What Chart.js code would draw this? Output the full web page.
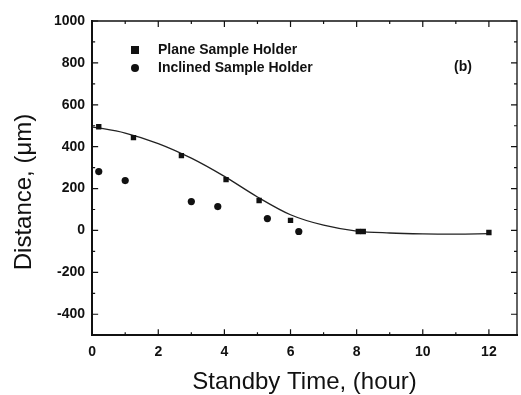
<!DOCTYPE html>
<html>
<head>
<meta charset="utf-8">
<script src="https://cdn.jsdelivr.net/npm/chart.js@4"></script>
<style>
  html, body { margin: 0; padding: 0; background: #fff; }
  #wrap { width: 521px; height: 395px; }
</style>
</head>
<body>
<div id="wrap"><canvas id="myChart" width="521" height="395"></canvas></div>
<script>
// data
var planeX = [0.2, 1.25, 2.7, 4.05, 5.05, 6.0, 8.05, 8.2, 12.0];
var planeY = [495, 443, 357, 243, 143, 48, -5, -5, -10];

var inclinedX = [0.2, 1.0, 3.0, 3.8, 5.3, 6.25];
var inclinedY = [281, 238, 138, 114, 57, -5];

var fitX = [0, 1, 2, 3, 4, 5, 6, 7, 8, 9, 10, 11, 12];
var fitY = [495, 465, 415, 345, 258, 160, 75, 25, -3, -12, -16, -17, -15];

var yTicks = [-400, -200, 0, 200, 400, 600, 800, 1000];
var xTicks = [0, 2, 4, 6, 8, 10, 12];

function pts(xs, ys) {
    return xs.map(function (x, i) { return { x: x, y: ys[i] }; });
}

var FONT = '"Liberation Sans", Arial, sans-serif';

// inward ticks on all four sides, top/right frame, legend and y title
var frame = {
    id: 'frame',
    afterDraw: function (chart) {
        var c = chart.ctx, a = chart.chartArea;
        var xs = chart.scales.x, ys = chart.scales.y;
        c.save();
        c.strokeStyle = '#111';
        c.lineWidth = 1.3;
        c.beginPath();
        c.moveTo(a.left, a.top); c.lineTo(a.right, a.top); c.lineTo(a.right, a.bottom);
        c.stroke();
        c.lineWidth = 1.2;
        c.beginPath();
        for (var v = 0; v <= 12; v += 1) {
            var px = xs.getPixelForValue(v);
            var len = (v % 2 === 0) ? 6 : 3;
            c.moveTo(px, a.bottom); c.lineTo(px, a.bottom - len);
            c.moveTo(px, a.top); c.lineTo(px, a.top + len);
        }
        for (var w = -400; w <= 1000; w += 100) {
            var py = ys.getPixelForValue(w);
            var l2 = (w % 200 === 0) ? 6 : 3;
            c.moveTo(a.left, py); c.lineTo(a.left + l2, py);
            c.moveTo(a.right, py); c.lineTo(a.right - l2, py);
        }
        c.stroke();

        // legend
        c.fillStyle = '#111';
        c.fillRect(131, 46, 8, 8);
        c.beginPath();
        c.arc(135, 68, 4, 0, Math.PI * 2);
        c.fill();
        c.font = 'bold 14px ' + FONT;
        c.textBaseline = 'middle';
        c.fillText('Plane Sample Holder', 158, 50);
        c.fillText('Inclined Sample Holder', 158, 68);
        c.font = 'bold 14px ' + FONT;
        c.fillText('(b)', 454, 67);

        // y axis title
        c.translate(24, 192);
        c.rotate(-Math.PI / 2);
        c.textAlign = 'center';
        c.font = '24px ' + FONT;
        c.fillText('Distance, (\u03bcm)', 0, 0);
        c.restore();
    }
};

var ctx = document.getElementById('myChart').getContext('2d');

var graphData = {
    type: 'scatter',
    data: {
        datasets: [{
            label: 'Plane Sample Holder',
            data: pts(planeX, planeY),
            pointStyle: 'rect',
            pointRadius: 3.8,
            backgroundColor: '#111',
            borderColor: '#111',
            borderWidth: 0
        }, {
            label: 'Inclined Sample Holder',
            data: pts(inclinedX, inclinedY),
            pointStyle: 'circle',
            pointRadius: 3.6,
            backgroundColor: '#111',
            borderColor: '#111',
            borderWidth: 0
        }, {
            label: 'fit',
            type: 'line',
            data: pts(fitX, fitY),
            showLine: true,
            pointRadius: 0,
            borderColor: '#222',
            borderWidth: 1.3,
            cubicInterpolationMode: 'monotone',
            fill: false
        }]
    },
    options: {
        responsive: false,
        animation: false,
        layout: { padding: { top: 21, right: 1, left: 47, bottom: 0 } },
        plugins: {
            legend: { display: false },
            tooltip: { enabled: false }
        },
        scales: {
            x: {
                type: 'linear',
                min: 0,
                max: 12.85,
                afterBuildTicks: function (s) {
                    s.ticks = xTicks.map(function (v) { return { value: v }; });
                },
                grid: { display: false, drawTicks: false },
                border: { display: true, color: '#111', width: 2 },
                ticks: {
                    color: '#111',
                    padding: 9,
                    maxRotation: 0,
                    font: { family: FONT, size: 14, weight: 'bold' },
                    callback: function (v) { return String(v); }
                },
                title: {
                    display: true,
                    text: 'Standby Time, (hour)',
                    color: '#111',
                    font: { family: FONT, size: 24, lineHeight: 1.0 },
                    padding: { top: 0, bottom: 1 }
                }
            },
            y: {
                type: 'linear',
                min: -500,
                max: 1000,
                afterBuildTicks: function (s) {
                    s.ticks = yTicks.map(function (v) { return { value: v }; });
                },
                grid: { display: false, drawTicks: false },
                border: { display: true, color: '#111', width: 2 },
                ticks: {
                    color: '#111',
                    padding: 7,
                    font: { family: FONT, size: 14, weight: 'bold' },
                    callback: function (v) { return String(v); }
                }
            }
        }
    },
    plugins: [frame]
};

var myChart = new Chart(ctx, graphData);
</script>
</body>
</html>
